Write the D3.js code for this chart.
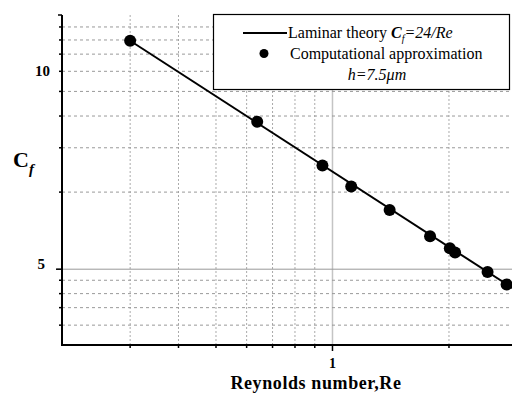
<!DOCTYPE html>
<html>
<head>
<meta charset="utf-8">
<script src="https://cdn.jsdelivr.net/npm/d3@7"></script>
<style>
  html, body { margin: 0; padding: 0; background: #fff; }
  svg { display: block; font-family: "Liberation Serif", "Times New Roman", serif; }
</style>
</head>
<body>
<svg id="chart" width="512" height="394"></svg>
<script>
// Data
const pointRe = [0.30, 0.639, 0.942, 1.118, 1.405, 1.787, 2.01, 2.074, 2.516, 2.818];
const pointCf = [11.13, 8.38, 7.19, 6.68, 6.15, 5.61, 5.38, 5.30, 4.95, 4.74];
const theoryRe = [0.30, 2.92];
const theoryCf = [11.13, 4.68];

const xGrid = [0.3, 0.4, 0.5, 0.6, 0.7, 0.8, 0.9, 2];
const xMajor = [1];
const xLabels = ['1'];
const yGrid = [11.68, 11.16, 10.62, 10, 9.32, 8.55, 7.65, 6.55, 4.81, 4.59, 4.37, 4.11];
const yMajor = [5];
const yLabels = [['10', 10], ['5', 5]];

const svg = d3.select('#chart');
const pLeft = 62, pRight = 512, pTop = 15, pBottom = 345;

const x = d3.scaleLog().domain([0.2, 2.91]).range([pLeft, pRight]);
const y = d3.scaleLog().domain([3.834, 12.18]).range([pBottom, pTop]);

svg.append('rect').attr('width', 512).attr('height', 394).attr('fill', '#fff');

// Grid
const grid = svg.append('g');
grid.selectAll('.vg').data(xGrid).join('line')
  .attr('x1', d => x(d)).attr('x2', d => x(d))
  .attr('y1', pTop).attr('y2', pBottom)
  .attr('stroke', '#aaa').attr('stroke-width', 1)
  .attr('stroke-dasharray', '2,2');
grid.selectAll('.vm').data(xMajor).join('line')
  .attr('x1', d => x(d)).attr('x2', d => x(d))
  .attr('y1', pTop).attr('y2', pBottom)
  .attr('stroke', '#c4c4c4').attr('stroke-width', 1.5);
grid.selectAll('.hg').data(yGrid).join('line')
  .attr('x1', pLeft).attr('x2', pRight)
  .attr('y1', d => y(d)).attr('y2', d => y(d))
  .attr('stroke', '#999').attr('stroke-width', 1)
  .attr('stroke-dasharray', '3,3');
grid.selectAll('.hm').data(yMajor).join('line')
  .attr('x1', pLeft - 5).attr('x2', pRight)
  .attr('y1', d => y(d)).attr('y2', d => y(d))
  .attr('stroke', '#999').attr('stroke-width', 1);

// Axis ticks
const ticks = svg.append('g').attr('stroke', '#000').attr('stroke-width', 1.5);
ticks.selectAll('.xt').data(xGrid.concat(xMajor)).join('line')
  .attr('x1', d => x(d)).attr('x2', d => x(d))
  .attr('y1', pBottom).attr('y2', d => d === 1 ? pBottom + 6 : pBottom + 3);
ticks.selectAll('.yt').data(yGrid.concat(yMajor)).join('line')
  .attr('x1', d => d === 5 ? pLeft - 6 : pLeft - 3).attr('x2', pLeft)
  .attr('y1', d => y(d)).attr('y2', d => y(d));

// Axis lines
svg.append('line').attr('x1', pLeft).attr('x2', pLeft).attr('y1', pTop).attr('y2', pBottom + 1)
  .attr('stroke', '#000').attr('stroke-width', 2);
svg.append('line').attr('x1', pLeft - 4).attr('x2', pLeft).attr('y1', pTop).attr('y2', pTop)
  .attr('stroke', '#000').attr('stroke-width', 1.5);
svg.append('line').attr('x1', pLeft - 1).attr('x2', pRight).attr('y1', pBottom).attr('y2', pBottom)
  .attr('stroke', '#000').attr('stroke-width', 2);

// Tick labels
svg.selectAll('.xl').data(xMajor).join('text')
  .attr('x', d => x(d)).attr('y', pBottom + 23)
  .attr('text-anchor', 'middle').attr('font-size', 14).attr('font-weight', 'bold')
  .text((d, i) => xLabels[i]);
svg.selectAll('.yl').data(yLabels).join('text')
  .attr('x', d => d[1] === 5 ? 45 : 50).attr('y', d => y(d[1]) + (d[1] === 5 ? 0 : 5))
  .attr('text-anchor', 'end').attr('font-size', 15).attr('font-weight', 'bold')
  .text(d => d[0]);

// Axis titles
svg.append('text').attr('x', 316).attr('y', 389).attr('text-anchor', 'middle')
  .attr('font-size', 18).attr('font-weight', 'bold').attr('letter-spacing', 0.6)
  .text('Reynolds number,Re');
const yt = svg.append('text').attr('x', 13).attr('y', 167).attr('font-weight', 'bold');
yt.append('tspan').attr('font-size', 22).text('C');
yt.append('tspan').attr('font-size', 15).attr('font-style', 'italic').attr('dy', 7).text('f');

// Theory line
const line = d3.line().x(d => x(d[0])).y(d => y(d[1]));
svg.append('path').datum(theoryRe.map((r, i) => [r, theoryCf[i]]))
  .attr('d', line).attr('fill', 'none').attr('stroke', '#000').attr('stroke-width', 2);

// Points
svg.selectAll('.pt').data(pointRe.map((r, i) => [r, pointCf[i]])).join('circle')
  .attr('cx', d => x(d[0])).attr('cy', d => y(d[1])).attr('r', 6).attr('fill', '#000');

// Legend
const lg = svg.append('g');
lg.append('rect').attr('x', 213.5).attr('y', 14.5).attr('width', 296).attr('height', 75)
  .attr('fill', '#fff').attr('stroke', '#000').attr('stroke-width', 1.2);
lg.append('line').attr('x1', 243).attr('x2', 287).attr('y1', 33).attr('y2', 33)
  .attr('stroke', '#000').attr('stroke-width', 2);
const t1 = lg.append('text').attr('x', 288).attr('y', 38).attr('font-size', 16);
t1.append('tspan').text('Laminar theory  ');
t1.append('tspan').attr('font-weight', 'bold').attr('font-style', 'italic').text('C');
t1.append('tspan').attr('font-style', 'italic').attr('font-size', 10).attr('dy', 4).text('f');
t1.append('tspan').attr('font-style', 'italic').attr('dy', -4).text('=24/Re');
lg.append('circle').attr('cx', 264).attr('cy', 53.5).attr('r', 4.5).attr('fill', '#000');
lg.append('text').attr('x', 290).attr('y', 59).attr('font-size', 16).text('Computational approximation');
lg.append('text').attr('x', 377).attr('y', 80).attr('font-size', 16).attr('font-style', 'italic')
  .attr('text-anchor', 'middle').text('h=7.5\u03BCm');
</script>
</body>
</html>
